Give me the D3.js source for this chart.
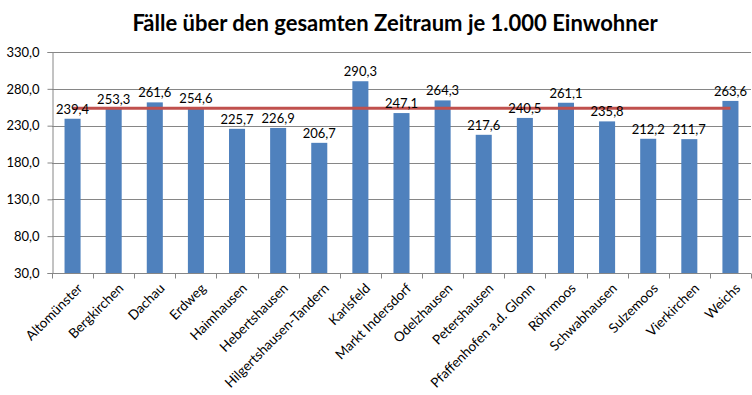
<!DOCTYPE html>
<html>
<head>
<meta charset="utf-8">
<script src="https://cdn.jsdelivr.net/npm/d3@7"></script>
<style>
  body { margin: 0; background: #fff; }
  text { font-family: Lato, "Open Sans", sans-serif; }
</style>
</head>
<body>
<div id="chart"></div>
<script>
var width = 752,
    height = 395;

// data
var orte = ["Altomünster", "Bergkirchen", "Dachau", "Erdweg", "Haimhausen", "Hebertshausen",
    "Hilgertshausen-Tandern", "Karlsfeld", "Markt Indersdorf", "Odelzhausen", "Petershausen",
    "Pfaffenhofen a.d. Glonn", "Röhrmoos", "Schwabhausen", "Sulzemoos", "Vierkirchen", "Weichs"];
var faelle = [239.4, 253.3, 261.6, 254.6, 225.7, 226.9, 206.7, 290.3, 247.1, 264.3, 217.6,
    240.5, 261.1, 235.8, 212.2, 211.7, 263.6];
var landkreis = [253.8, 253.8, 253.8, 253.8, 253.8, 253.8, 253.8, 253.8, 253.8, 253.8, 253.8,
    253.8, 253.8, 253.8, 253.8, 253.8, 253.8];
var yTicks = [30, 80, 130, 180, 230, 280, 330];

var fmt = function (v) { return v.toFixed(1).replace(".", ","); };

var svg = d3.select("#chart").append("svg")
    .attr("width", width)
    .attr("height", height);

var x = d3.scaleBand()
    .domain(orte)
    .range([52, 751])
    .paddingInner(0.61)
    .paddingOuter(0.305);

var y = d3.scaleLinear()
    .domain([30, 330])
    .range([273, 52]);

// title
svg.append("text")
    .attr("x", 395)
    .attr("y", 31)
    .attr("text-anchor", "middle")
    .style("font-size", "22px")
    .style("font-weight", "bold")
    .text("Fälle über den gesamten Zeitraum je 1.000 Einwohner");

// gridlines
svg.append("g")
    .selectAll("line")
    .data(yTicks)
    .join("line")
    .attr("x1", 52)
    .attr("x2", 751)
    .attr("y1", function (d) { return Math.round(y(d)) + 0.5; })
    .attr("y2", function (d) { return Math.round(y(d)) + 0.5; })
    .attr("stroke", "#868686")
    .attr("stroke-width", 1);

// y axis
var yAxis = svg.append("g")
    .attr("transform", "translate(52.5,0)")
    .call(d3.axisLeft(y).tickValues(yTicks).tickFormat(fmt).tickSize(5).tickPadding(8));
yAxis.select(".domain").attr("stroke", "#868686");
yAxis.selectAll(".tick line").attr("stroke", "#868686");
yAxis.selectAll("text").style("font-size", "13px").attr("fill", "#000");

// bars
svg.append("g")
    .selectAll("rect")
    .data(faelle)
    .join("rect")
    .attr("x", function (d, i) { return x(orte[i]); })
    .attr("y", function (d) { return y(d); })
    .attr("width", x.bandwidth())
    .attr("height", function (d) { return y(30) - y(d); })
    .attr("fill", "#4F81BD");

// x axis
var step = x.step();
var xAxis = svg.append("g")
    .attr("transform", "translate(0," + (Math.round(y(30)) + 0.5) + ")");
xAxis.append("line")
    .attr("x1", 52).attr("x2", 751)
    .attr("stroke", "#868686");
xAxis.selectAll(".tk")
    .data(d3.range(orte.length + 1))
    .join("line")
    .attr("class", "tk")
    .attr("x1", function (d) { return Math.round(52 + d * step) + 0.5; })
    .attr("x2", function (d) { return Math.round(52 + d * step) + 0.5; })
    .attr("y1", 0).attr("y2", 5)
    .attr("stroke", "#868686");
xAxis.selectAll("text")
    .data(orte)
    .join("text")
    .attr("transform", function (d) {
        return "translate(" + (x(d) + x.bandwidth() / 2 + 4) + ",9) rotate(-45)";
    })
    .attr("text-anchor", "end")
    .attr("dy", "0.7em")
    .style("font-size", "13.5px")
    .attr("fill", "#000")
    .text(function (d) { return d; });

// red reference line
var line = d3.line()
    .x(function (d, i) { return x(orte[i]) + x.bandwidth() / 2; })
    .y(function (d) { return y(d); });
svg.append("path")
    .datum(landkreis)
    .attr("d", line)
    .attr("fill", "none")
    .attr("stroke", "#C0504D")
    .attr("stroke-width", 3);

// value labels
svg.append("g")
    .selectAll("text")
    .data(faelle)
    .join("text")
    .attr("x", function (d, i) { return x(orte[i]) + x.bandwidth() / 2; })
    .attr("y", function (d) { return y(d) - 5; })
    .attr("text-anchor", "middle")
    .style("font-size", "13px")
    .attr("fill", "#000")
    .text(fmt);
</script>
</body>
</html>
